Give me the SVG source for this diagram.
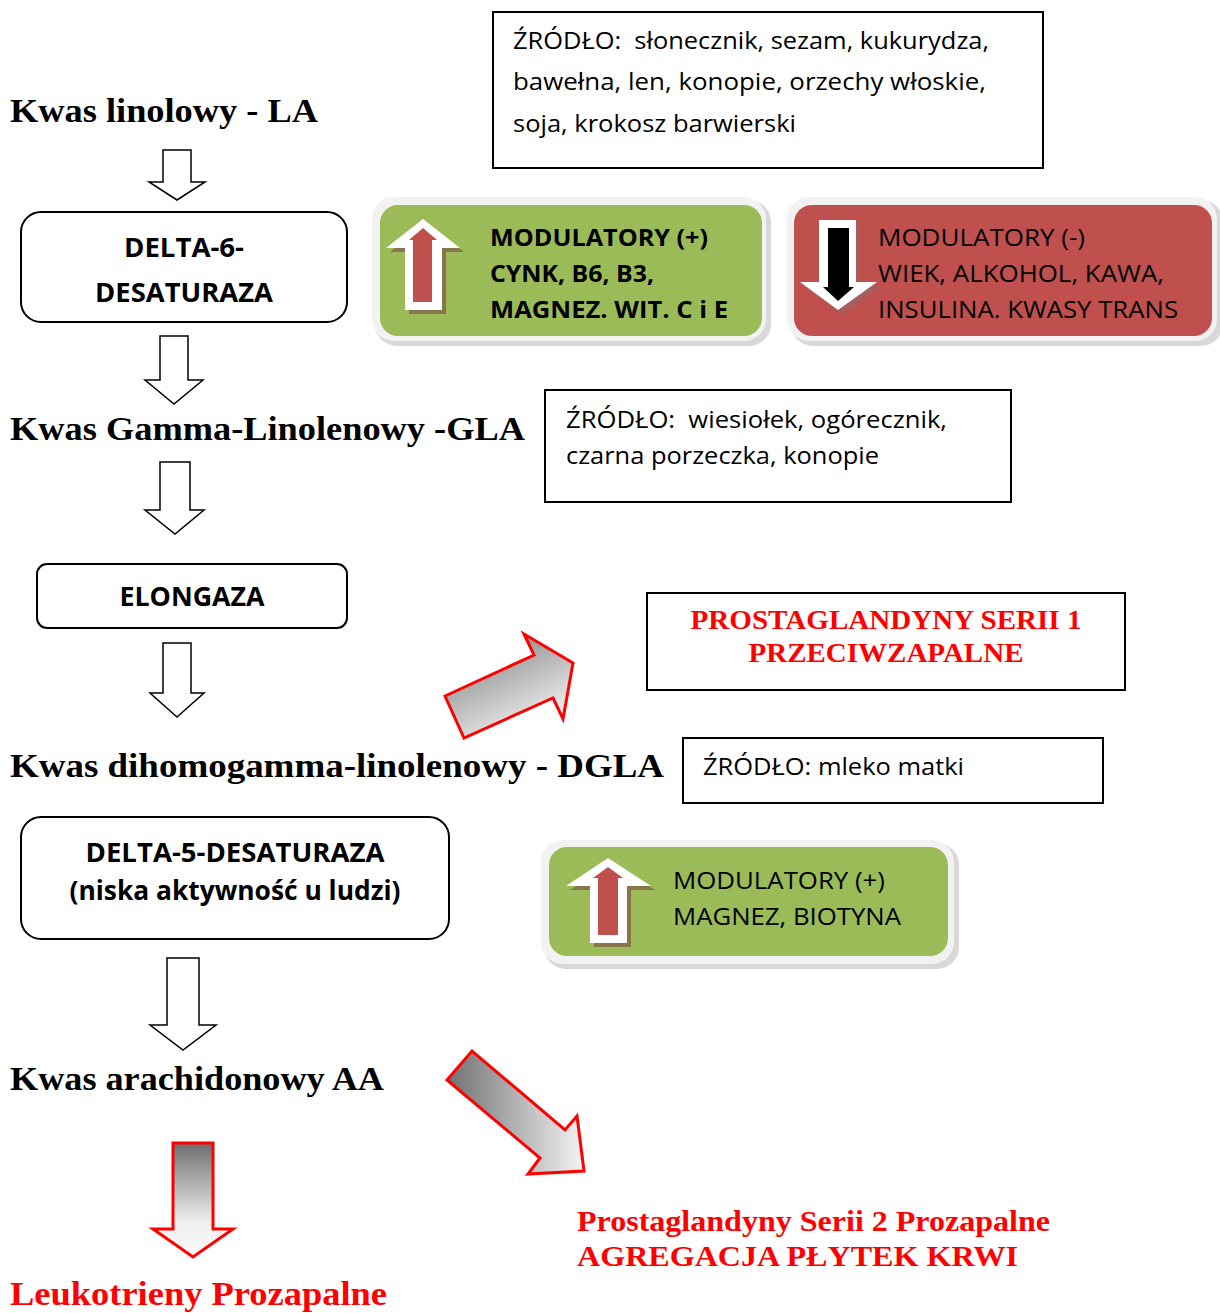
<svg xmlns="http://www.w3.org/2000/svg" width="1220" height="1313" viewBox="0 0 1220 1313">
<style>
text{white-space:pre}
.t{font-family:"Liberation Serif","DejaVu Serif",serif;font-weight:bold;font-size:34px;fill:#000}
.r{fill:#ff0000}
.s{font-family:"Open Sans","Liberation Sans",sans-serif;font-size:24px;fill:#000}
.b{font-weight:bold}
.box{fill:#fff;stroke:#000;stroke-width:2}
.ha{fill:#fff;stroke:#000;stroke-width:1.5}
.ga{stroke:#ff0000;stroke-width:3;stroke-linejoin:miter}
</style>
<defs>
<linearGradient id="g1" x1="0" y1="0" x2="0.6" y2="1"><stop offset="0" stop-color="#707070"/><stop offset="1" stop-color="#f4f4f4"/></linearGradient>
<linearGradient id="g2" x1="0" y1="0" x2="1" y2="0"><stop offset="0" stop-color="#707070"/><stop offset="1" stop-color="#f4f4f4"/></linearGradient>
<linearGradient id="g3" x1="0" y1="0" x2="0" y2="1"><stop offset="0" stop-color="#6e6e6e"/><stop offset="0.7" stop-color="#f0f0f0"/><stop offset="1" stop-color="#fafafa"/></linearGradient>
</defs>

<g id="la"><text class="t" x="10" y="122" textLength="308" lengthAdjust="spacingAndGlyphs">Kwas linolowy - LA</text></g>
<g id="gla"><text class="t" x="10" y="440" textLength="515" lengthAdjust="spacingAndGlyphs">Kwas Gamma-Linolenowy -GLA</text></g>
<g id="dgla"><text class="t" x="10" y="777" textLength="654" lengthAdjust="spacingAndGlyphs">Kwas dihomogamma-linolenowy - DGLA</text></g>
<g id="aa"><text class="t" x="10" y="1090" textLength="374" lengthAdjust="spacingAndGlyphs">Kwas arachidonowy AA</text></g>
<g id="leuko"><text class="t r" x="10" y="1305" textLength="377" lengthAdjust="spacingAndGlyphs">Leukotrieny Prozapalne</text></g>
<g id="pg2"><text class="t r" x="577" y="1231" style="font-size:30px" textLength="473" lengthAdjust="spacingAndGlyphs">Prostaglandyny Serii 2 Prozapalne</text><text class="t r" x="577" y="1266" style="font-size:30px" textLength="441" lengthAdjust="spacingAndGlyphs">AGREGACJA PŁYTEK KRWI</text></g>

<g id="d6"><rect class="box" x="21" y="212" width="326" height="110" rx="20"/><text class="s b" x="184" y="257" text-anchor="middle" style="font-size:26px" textLength="120" lengthAdjust="spacingAndGlyphs">DELTA-6-</text><text class="s b" x="184" y="302" text-anchor="middle" style="font-size:26px" textLength="178" lengthAdjust="spacingAndGlyphs">DESATURAZA</text></g>
<g id="elong"><rect class="box" x="37" y="564" width="310" height="64" rx="10"/><text class="s b" x="192" y="606" text-anchor="middle" style="font-size:26px" textLength="145" lengthAdjust="spacingAndGlyphs">ELONGAZA</text></g>
<g id="d5"><rect class="box" x="21" y="817" width="428" height="122" rx="20"/><text class="s b" x="235" y="862" text-anchor="middle" style="font-size:26px" textLength="299" lengthAdjust="spacingAndGlyphs">DELTA-5-DESATURAZA</text><text class="s b" x="235" y="900" text-anchor="middle" style="font-size:26px" textLength="331" lengthAdjust="spacingAndGlyphs">(niska aktywność u ludzi)</text></g>

<g id="src1"><rect class="box" x="493" y="12" width="550" height="156"/><text class="s" x="513" y="49" textLength="476" lengthAdjust="spacingAndGlyphs">ŹRÓDŁO:  słonecznik, sezam, kukurydza,</text><text class="s" x="513" y="90" textLength="473" lengthAdjust="spacingAndGlyphs">bawełna, len, konopie, orzechy włoskie,</text><text class="s" x="513" y="132" textLength="283" lengthAdjust="spacingAndGlyphs">soja, krokosz barwierski</text></g>
<g id="src2"><rect class="box" x="545" y="390" width="466" height="112"/><text class="s" x="566" y="428" textLength="381" lengthAdjust="spacingAndGlyphs">ŹRÓDŁO:  wiesiołek, ogórecznik,</text><text class="s" x="566" y="464" textLength="313" lengthAdjust="spacingAndGlyphs">czarna porzeczka, konopie</text></g>
<g id="src3"><rect class="box" x="683" y="738" width="420" height="65"/><text class="s" x="703" y="775" textLength="261" lengthAdjust="spacingAndGlyphs">ŹRÓDŁO: mleko matki</text></g>
<g id="pg1"><rect class="box" x="647" y="593" width="478" height="97"/><text class="t r" x="886" y="629" text-anchor="middle" style="font-size:28px" textLength="391" lengthAdjust="spacingAndGlyphs">PROSTAGLANDYNY SERII 1</text><text class="t r" x="886" y="662" text-anchor="middle" style="font-size:28px" textLength="275" lengthAdjust="spacingAndGlyphs">PRZECIWZAPALNE</text></g>

<g id="modplus1">
<rect x="375" y="200" width="396" height="146" rx="22" fill="#d8d8d8"/>
<rect x="372" y="197" width="394" height="144" rx="22" fill="#f2f2f2"/>
<rect x="380" y="205" width="382" height="131" rx="18" fill="#9bbb59"/>
<polygon points="427,223 464,252 446,252 446,314 409,314 409,252 390,252" fill="#85764c"/>
<polygon points="423,219 460,248 442,248 442,310 405,310 405,248 386,248" fill="#fff"/>
<polygon points="423,228 437,240 432,240 432,302 413,302 413,240 409,240" fill="#c0504d"/>
<text class="s b" x="490" y="246" textLength="218" lengthAdjust="spacingAndGlyphs">MODULATORY (+)</text><text class="s b" x="490" y="282" textLength="164" lengthAdjust="spacingAndGlyphs">CYNK, B6, B3,</text><text class="s b" x="490" y="318" textLength="238" lengthAdjust="spacingAndGlyphs">MAGNEZ. WIT. C i E</text>
</g>
<g id="modminus">
<rect x="791" y="200" width="432" height="146" rx="22" fill="#d8d8d8"/>
<rect x="787" y="197" width="430" height="144" rx="22" fill="#f2f2f2"/>
<rect x="794" y="205" width="418" height="131" rx="18" fill="#c0504d"/>
<polygon points="823,224 860,224 860,286 881,286 842,314 804,286 823,286" fill="#a65f5e"/>
<polygon points="819,220 856,220 856,282 877,282 838,310 800,282 819,282" fill="#fff"/>
<polygon points="828,228 849,228 849,287 854,287 838,301 823,287 828,287" fill="#000"/>
<text class="s" x="878" y="246" textLength="207" lengthAdjust="spacingAndGlyphs">MODULATORY (-)</text><text class="s" x="878" y="282" textLength="286" lengthAdjust="spacingAndGlyphs">WIEK, ALKOHOL, KAWA,</text><text class="s" x="878" y="318" textLength="300" lengthAdjust="spacingAndGlyphs">INSULINA. KWASY TRANS</text>
</g>
<g id="modplus2">
<rect x="544" y="843" width="415" height="126" rx="22" fill="#d8d8d8"/>
<rect x="541" y="840" width="413" height="124" rx="22" fill="#f2f2f2"/>
<rect x="549" y="847" width="399" height="109" rx="18" fill="#9bbb59"/>
<polygon points="612,862 655,890 631,890 631,947 594,947 594,890 570,890" fill="#85764c"/>
<polygon points="608,858 651,886 627,886 627,943 590,943 590,886 566,886" fill="#fff"/>
<polygon points="608,867 623,878 618,878 618,935 598,935 598,878 593,878" fill="#c0504d"/>
<text class="s" x="673" y="889" textLength="212" lengthAdjust="spacingAndGlyphs">MODULATORY (+)</text><text class="s" x="673" y="925" textLength="228" lengthAdjust="spacingAndGlyphs">MAGNEZ, BIOTYNA</text>
</g>

<g id="connectors">
<polygon class="ha" points="163,150 191,150 191,182 205,182 177,200 149,182 163,182"/>
<polygon class="ha" points="160,336 188,336 188,380 203,380 174,404 145,380 160,380"/>
<polygon class="ha" points="160,462 190,462 190,510 204,510 175,534 145,510 160,510"/>
<polygon class="ha" points="163,643 191,643 191,693 204,693 177,717 150,693 163,693"/>
<polygon class="ha" points="167,958 199,958 199,1025 216,1025 183,1050 150,1025 167,1025"/>
<polygon class="ga" fill="url(#g1)" points="445,696 534,655 524,634 573,663 563,719 553,698 464,738"/>
<polygon class="ga" fill="url(#g2)" points="447,1080 472,1051 565,1130 577,1116 584,1171 528,1174 540,1158"/>
<polygon class="ga" fill="url(#g3)" points="173,1143 213,1143 213,1229 233,1229 193,1257 153,1229 173,1229"/>
</g>
</svg>
